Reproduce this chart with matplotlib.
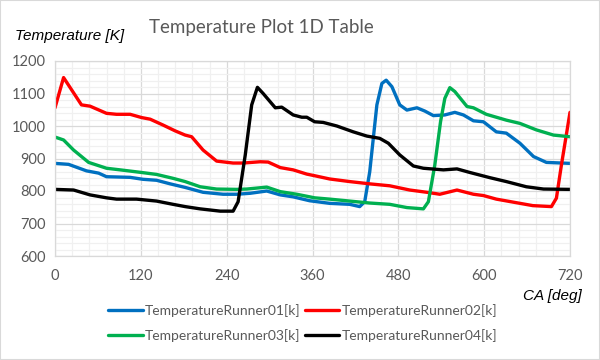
import matplotlib
matplotlib.use("Agg")
import matplotlib.pyplot as plt
from matplotlib.ticker import MultipleLocator
from matplotlib.patches import Rectangle

# crank angle [deg] / temperature [K]
ca_01 = [0, 19, 44, 61, 72, 105, 123, 142, 161, 182, 207, 235, 254, 273, 296, 315, 333,
         356, 384, 412, 426, 433, 440, 450, 457, 463, 471, 482, 492, 506, 517, 529, 545,
         559, 571, 585, 599, 617, 631, 650, 669, 687, 720]
t_01 = [885, 882, 862, 855, 844, 842, 836, 833, 822, 811, 796, 790, 790, 793, 800, 788, 782,
        770, 762, 759, 752, 767, 859, 1065, 1131, 1141, 1121, 1065, 1049, 1056, 1046, 1032, 1034,
        1042, 1034, 1016, 1013, 982, 978, 947, 906, 888, 885]

ca_02 = [0, 12, 37, 49, 72, 86, 105, 121, 133, 151, 168, 182, 191, 207, 226, 249, 263,
         287, 298, 315, 333, 352, 363, 384, 412, 440, 468, 496, 520, 538, 562, 585, 599,
         617, 645, 668, 694, 701, 708, 720]
t_02 = [1056, 1149, 1065, 1061, 1039, 1036, 1036, 1026, 1021, 1003, 985, 972, 967, 926, 892, 886, 886,
        890, 889, 872, 865, 852, 847, 837, 829, 822, 816, 803, 796, 790, 803, 790, 786,
        775, 764, 755, 752, 778, 880, 1042]

ca_03 = [0, 12, 26, 47, 72, 95, 121, 142, 165, 182, 203, 226, 254, 268, 296, 315, 338,
         363, 384, 412, 440, 468, 492, 515, 522, 531, 539, 545, 552, 559, 576, 585, 603,
         631, 650, 673, 697, 720]
t_03 = [966, 957, 926, 888, 870, 864, 857, 851, 839, 829, 813, 806, 805, 806, 812, 798, 790,
        779, 775, 769, 763, 759, 749, 745, 767, 880, 1013, 1085, 1118, 1106, 1060, 1056, 1036,
        1018, 1008, 988, 972, 967]

ca_04 = [0, 26, 49, 72, 86, 114, 142, 165, 182, 203, 231, 249, 256, 266, 275, 283, 291,
         308, 317, 333, 345, 352, 363, 375, 394, 417, 436, 454, 466, 482, 501, 515, 543,
         562, 580, 608, 631, 659, 683, 720]
t_04 = [805, 803, 788, 779, 775, 775, 769, 759, 752, 745, 738, 738, 767, 911, 1065, 1119, 1100,
        1056, 1058, 1034, 1027, 1027, 1013, 1011, 1000, 982, 969, 962, 947, 911, 877, 870, 865,
        868, 857, 841, 829, 813, 806, 805]

names = ["TemperatureRunner01[k]", "TemperatureRunner02[k]",
         "TemperatureRunner03[k]", "TemperatureRunner04[k]"]
colors = ["#0070C0", "#FF0000", "#00B050", "#000000"]

plt.rcParams["font.family"] = ["Lato", "DejaVu Sans"]

fig = plt.figure(figsize=(6, 3.6), dpi=100)
ax = fig.add_axes([55 / 600, 1 - 256 / 360, 515 / 600, 195 / 360])

series = [(ca_01, t_01), (ca_02, t_02), (ca_03, t_03), (ca_04, t_04)]
lines = []
for (x, y), name, c in zip(series, names, colors):
    ln, = ax.plot(x, y, color=c, lw=2.4, label=name,
                  solid_capstyle="round", solid_joinstyle="round")
    lines.append(ln)

ax.set_xlim(0, 720)
ax.set_ylim(600, 1200)
ax.xaxis.set_major_locator(MultipleLocator(120))
ax.xaxis.set_minor_locator(MultipleLocator(24))
ax.yaxis.set_major_locator(MultipleLocator(100))
ax.yaxis.set_minor_locator(MultipleLocator(20))
ax.grid(which="major", color="#D9D9D9", lw=0.9)
ax.grid(which="minor", color="#F0F0F0", lw=0.9)
ax.set_axisbelow(True)
for s in ax.spines.values():
    s.set_color("#D9D9D9")
    s.set_linewidth(0.9)
ax.tick_params(which="both", length=0, colors="#595959", labelsize=10.5)
ax.tick_params(axis="x", pad=9)
ax.tick_params(axis="y", pad=7)

fig.text(261 / 600, 1 - 27 / 360, "Temperature Plot 1D Table", ha="center", va="center",
         fontsize=13.5, color="#595959")
fig.text(15 / 600, 1 - 36 / 360, "Temperature [K]", ha="left", va="center",
         fontsize=11, style="italic", family=["Liberation Sans"], color="black")
fig.text(582 / 600, 1 - 296 / 360, "CA [deg]", ha="right", va="center",
         fontsize=11, style="italic", family=["Liberation Sans"], color="black")

order = [0, 2, 1, 3]
fig.legend([lines[i] for i in order], [names[i] for i in order], ncol=2,
           loc="upper left", bbox_to_anchor=(108 / 600, 1 - 304 / 360), frameon=False,
           fontsize=10, labelcolor="#595959", handlelength=2.5, handletextpad=0.15,
           columnspacing=0.3, labelspacing=0.85, borderpad=0, borderaxespad=0)

fig.patches.append(Rectangle((0, 0), 1, 1, transform=fig.transFigure, fill=False,
                             edgecolor="#D9D9D9", lw=1.5))

fig.savefig("out.png", dpi=100)
